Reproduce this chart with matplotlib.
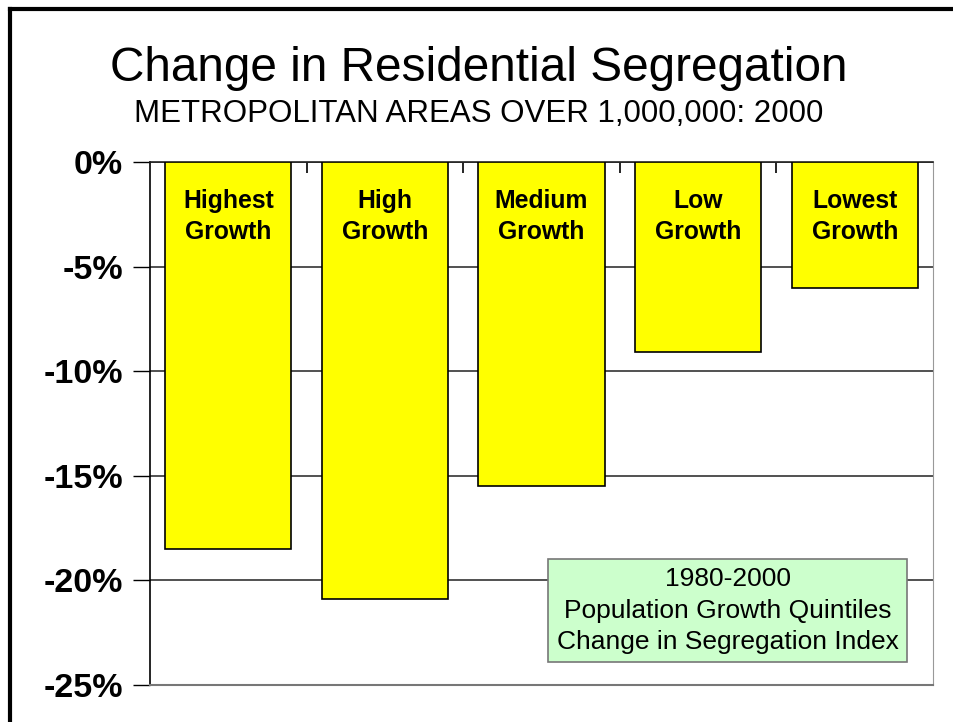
import matplotlib.pyplot as plt
from matplotlib.lines import Line2D

plt.rcParams['font.family'] = ['Liberation Sans', 'DejaVu Sans']

# quintiles of 1980-2000 population growth
groups = ["Highest\nGrowth", "High\nGrowth", "Medium\nGrowth", "Low\nGrowth", "Lowest\nGrowth"]
seg_change = [-18.5, -20.9, -15.5, -9.1, -6.0]
yticks = [0, -5, -10, -15, -20, -25]
ytick_labels = ["0%", "-5%", "-10%", "-15%", "-20%", "-25%"]

fig = plt.figure(figsize=(9.54, 7.22), dpi=100)
ax = fig.add_axes([0.1572, 0.0512, 0.8208, 0.7244])

x = list(range(len(groups)))
ax.bar(x, seg_change, width=0.805, color="#FFFF00", edgecolor="black",
       linewidth=1.2, zorder=3)

for xi, name in zip(x, groups):
    ax.text(xi, -2.6, name, ha="center", va="center", fontsize=17.8,
            fontweight="bold", linespacing=1.39, zorder=4)

ax.set_xlim(-0.5, 4.5)
ax.set_ylim(-25, 0)
ax.set_yticks(yticks)
ax.set_yticklabels(ytick_labels, fontsize=24.5, fontweight="bold")
ax.tick_params(axis="y", direction="out", length=12, width=1, pad=7.5)

# x axis sits on the zero line with small ticks between categories
ax.xaxis.tick_top()
ax.set_xticks([0.5, 1.5, 2.5, 3.5])
ax.set_xticklabels([])
ax.tick_params(axis="x", direction="in", length=8, width=1.2, top=True, bottom=False)

ax.grid(axis="y", color="#333333", linewidth=1.2, zorder=0)
ax.set_axisbelow(True)
ax.spines["left"].set_color("black")
ax.spines["left"].set_linewidth(1.2)
ax.spines["top"].set_color("#222222")
ax.spines["top"].set_linewidth(1.2)
ax.spines["right"].set_color("#999999")
ax.spines["bottom"].set_color("#777777")
ax.spines["bottom"].set_linewidth(1.5)

ax.text(3.188, -21.44,
        "1980-2000\nPopulation Growth Quintiles\nChange in Segregation Index",
        ha="center", va="center", fontsize=19, linespacing=1.38, zorder=5,
        bbox=dict(boxstyle="square,pad=0.32", facecolor="#CCFFCC",
                  edgecolor="#777777", linewidth=1.2))

fig.text(0.502, 0.905, "Change in Residential Segregation", ha="center",
         va="center", fontsize=34.4)
fig.text(0.502, 0.842, "METROPOLITAN AREAS OVER 1,000,000: 2000", ha="center",
         va="center", fontsize=22.5)

# frame along the top and left edge of the slide
fig.add_artist(Line2D([0.0105, 1.0], [0.9875, 0.9875], color="black", linewidth=3,
                      transform=fig.transFigure))
fig.add_artist(Line2D([0.0105, 0.0105], [0.0, 0.9875], color="black", linewidth=3,
                      transform=fig.transFigure))

fig.savefig("out.png", dpi=100)
